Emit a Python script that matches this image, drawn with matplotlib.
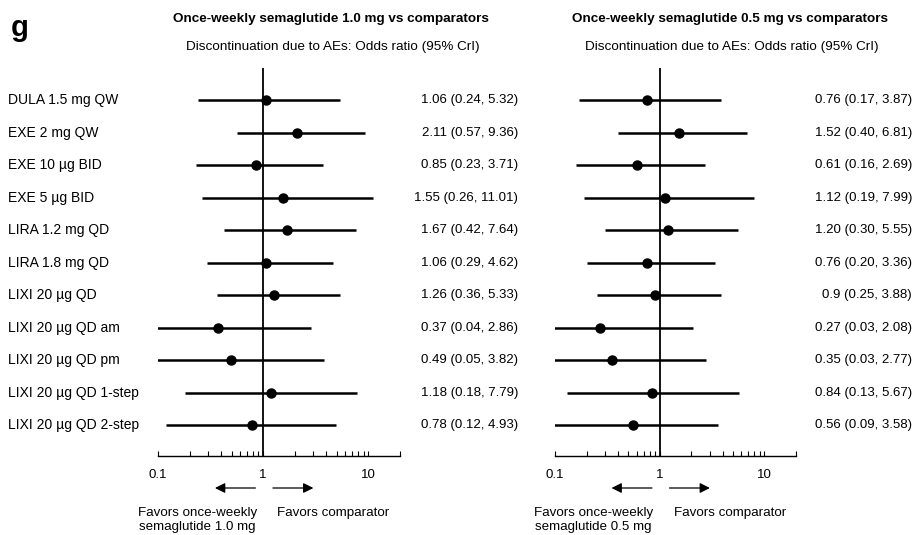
import numpy as np
import matplotlib
matplotlib.use("Agg")
import matplotlib.pyplot as plt
from matplotlib.patches import FancyArrowPatch
from matplotlib.transforms import blended_transform_factory
from matplotlib.ticker import LogLocator, FixedLocator, NullFormatter

plt.rcParams['font.family'] = ['Liberation Sans', 'DejaVu Sans']

comparators = ["DULA 1.5 mg QW", "EXE 2 mg QW", "EXE 10 µg BID", "EXE 5 µg BID",
               "LIRA 1.2 mg QD", "LIRA 1.8 mg QD", "LIXI 20 µg QD", "LIXI 20 µg QD am",
               "LIXI 20 µg QD pm", "LIXI 20 µg QD 1-step", "LIXI 20 µg QD 2-step"]

# semaglutide 1.0 mg
or_10 = [1.06, 2.11, 0.85, 1.55, 1.67, 1.06, 1.26, 0.37, 0.49, 1.18, 0.78]
lo_10 = [0.24, 0.57, 0.23, 0.26, 0.42, 0.29, 0.36, 0.04, 0.05, 0.18, 0.12]
hi_10 = [5.32, 9.36, 3.71, 11.01, 7.64, 4.62, 5.33, 2.86, 3.82, 7.79, 4.93]
txt_10 = ["1.06 (0.24, 5.32)", "2.11 (0.57, 9.36)", "0.85 (0.23, 3.71)", "1.55 (0.26, 11.01)",
          "1.67 (0.42, 7.64)", "1.06 (0.29, 4.62)", "1.26 (0.36, 5.33)", "0.37 (0.04, 2.86)",
          "0.49 (0.05, 3.82)", "1.18 (0.18, 7.79)", "0.78 (0.12, 4.93)"]

# semaglutide 0.5 mg
or_05 = [0.76, 1.52, 0.61, 1.12, 1.20, 0.76, 0.90, 0.27, 0.35, 0.84, 0.56]
lo_05 = [0.17, 0.40, 0.16, 0.19, 0.30, 0.20, 0.25, 0.03, 0.03, 0.13, 0.09]
hi_05 = [3.87, 6.81, 2.69, 7.99, 5.55, 3.36, 3.88, 2.08, 2.77, 5.67, 3.58]
txt_05 = ["0.76 (0.17, 3.87)", "1.52 (0.40, 6.81)", "0.61 (0.16, 2.69)", "1.12 (0.19, 7.99)",
          "1.20 (0.30, 5.55)", "0.76 (0.20, 3.36)", "0.9 (0.25, 3.88)", "0.27 (0.03, 2.08)",
          "0.35 (0.03, 2.77)", "0.84 (0.13, 5.67)", "0.56 (0.09, 3.58)"]

W, H = 917, 535
fig = plt.figure(figsize=(W / 100, H / 100), dpi=100)


def px(x, y):
    return x / W, 1 - y / H


def panel(x0, x1, ors, los, his, txts, txt_x, title_x, title, dose):
    ax = fig.add_axes([x0 / W, (H - 456) / H, (x1 - x0) / W, 388 / H])
    ax.set_xscale("log")
    ax.set_xlim(0.1, 20)
    ax.set_ylim(10.95, -0.985)
    rows = np.arange(len(ors))
    ax.axvline(1, color="black", lw=1.3, zorder=1)
    ax.hlines(rows, los, his, color="black", lw=1.8, zorder=2)
    ax.plot(ors, rows, "o", color="black", ms=6.5, zorder=3)
    for s in ["top", "right", "left"]:
        ax.spines[s].set_visible(False)
    ax.spines["bottom"].set_linewidth(1.0)
    ax.set_yticks([])
    ax.xaxis.set_major_locator(FixedLocator([0.1, 1, 10]))
    ax.set_xticklabels(["0.1", "1", "10"])
    ax.xaxis.set_minor_locator(LogLocator(base=10, subs=np.arange(2, 10)))
    ax.xaxis.set_minor_formatter(NullFormatter())
    ax.tick_params(axis="x", which="both", direction="in", length=3.5, width=0.8,
                   labelsize=9.5, pad=9)
    ax.patch.set_alpha(0)

    tr = blended_transform_factory(fig.transFigure, ax.transData)
    for r, t in zip(rows, txts):
        ax.text(txt_x / W, r, t, transform=tr, ha="right", va="center", fontsize=9.5)

    fig.text(*px(title_x, 19), title, ha="center", va="center", fontsize=9.7, fontweight="bold")
    fig.text(*px(title_x + 2, 47), "Discontinuation due to AEs: Odds ratio (95% CrI)",
             ha="center", va="center", fontsize=9.7)

    # x pixel of OR = 1
    x_one = x0 + (x1 - x0) * np.log10(1 / 0.1) / np.log10(20 / 0.1)
    arrow = dict(arrowstyle="-|>", color="black", lw=0.9, mutation_scale=15)
    fig.add_artist(FancyArrowPatch(px(x_one - 5, 488), px(x_one - 51, 488),
                                   transform=fig.transFigure, **arrow))
    fig.add_artist(FancyArrowPatch(px(x_one + 7, 488), px(x_one + 53, 488),
                                   transform=fig.transFigure, **arrow))
    fig.text(*px(x_one - 66, 507), f"Favors once-weekly\nsemaglutide {dose} mg",
             ha="center", va="top", fontsize=9.6, linespacing=1.2)
    fig.text(*px(x_one + 70, 507), "Favors comparator", ha="center", va="top", fontsize=9.6)
    return ax


ax1 = panel(158, 400, or_10, lo_10, hi_10, txt_10, 518, 331,
            "Once-weekly semaglutide 1.0 mg vs comparators", "1.0")
ax2 = panel(555, 796, or_05, lo_05, hi_05, txt_05, 912, 730,
            "Once-weekly semaglutide 0.5 mg vs comparators", "0.5")

tr = blended_transform_factory(fig.transFigure, ax1.transData)
for r, name in enumerate(comparators):
    ax1.text(8 / W, r, name, transform=tr, ha="left", va="center", fontsize=10)

fig.text(*px(11, 36), "g", ha="left", va="baseline", fontsize=21, fontweight="bold")

fig.savefig("out.png", dpi=100)
